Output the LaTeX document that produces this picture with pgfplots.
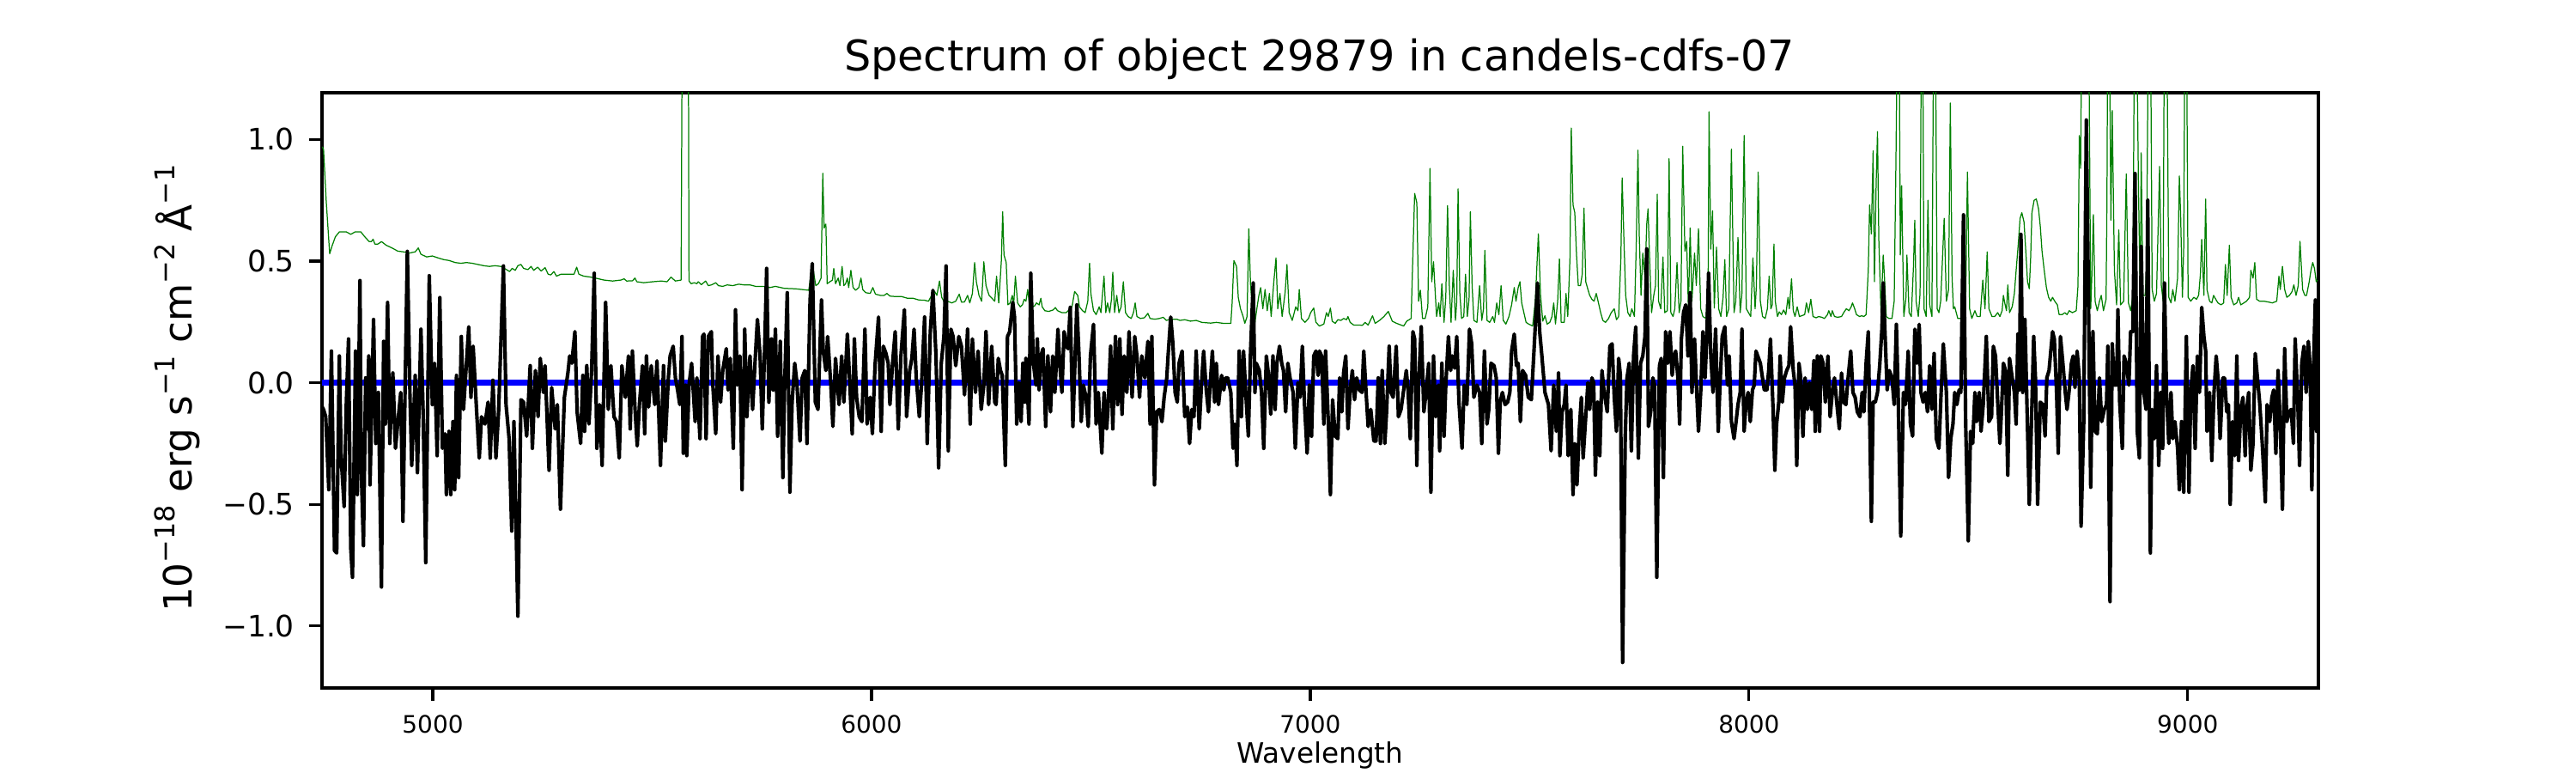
\documentclass[border=0pt]{standalone}
\usepackage{fontspec}
\setmainfont{DejaVu Sans}
\usepackage{pgfplots}
\usepackage{pgfplotstable}
\pgfplotsset{compat=1.18}
\newcommand\sups[1]{\raisebox{0.44em}{\fontsize{11.5}{11.5}\selectfont #1}}

\pgfplotstableread{
x y
4748 -0.10
4751 -0.11
4756 -0.14
4763 -0.44
4769 0.13
4776 -0.69
4781 -0.70
4787 0.11
4791 -0.30
4798 -0.51
4803 -0.08
4808 0.18
4813 -0.68
4817 -0.80
4824 0.13
4828 -0.46
4834 0.42
4837 -0.36
4842 -0.67
4847 0.02
4850 -0.19
4854 0.11
4857 -0.42
4865 0.26
4870 -0.25
4876 -0.04
4883 -0.84
4888 0.17
4892 -0.17
4897 0.33
4902 -0.25
4909 0.04
4915 -0.27
4920 -0.17
4927 -0.04
4932 -0.57
4942 0.54
4948 -0.05
4952 -0.34
4960 0.03
4965 -0.37
4973 0.22
4978 -0.12
4984 -0.74
4992 0.44
4999 -0.09
5004 0.08
5010 -0.30
5016 0.35
5022 -0.27
5028 -0.21
5031 -0.46
5037 -0.20
5041 -0.46
5046 -0.16
5050 -0.44
5054 0.03
5059 -0.39
5065 0.19
5070 -0.11
5082 0.23
5087 -0.06
5092 0.15
5100 -0.12
5106 -0.31
5111 -0.14
5119 -0.17
5126 -0.08
5131 -0.31
5137 0.01
5144 -0.31
5150 -0.12
5161 0.48
5167 -0.09
5174 -0.23
5180 -0.61
5185 -0.16
5194 -0.96
5201 -0.07
5207 -0.08
5214 -0.22
5222 0.07
5227 -0.27
5234 0.05
5240 -0.14
5245 0.10
5252 -0.04
5256 0.07
5265 -0.36
5271 -0.02
5279 -0.19
5284 -0.09
5291 -0.52
5300 -0.06
5308 0.04
5312 0.11
5317 0.08
5324 0.21
5329 -0.12
5337 -0.25
5342 0.03
5346 -0.20
5351 0.07
5356 -0.17
5362 0.05
5368 0.45
5374 -0.27
5380 -0.09
5386 -0.34
5394 0.33
5400 -0.11
5406 0.07
5413 -0.14
5419 -0.16
5425 -0.31
5431 0.07
5439 -0.06
5446 0.11
5450 -0.19
5455 0.13
5461 -0.11
5466 -0.26
5471 -0.09
5478 0.07
5483 -0.21
5487 0.11
5492 -0.10
5498 0.07
5506 -0.09
5511 0.09
5519 -0.34
5526 0.07
5530 -0.24
5537 0.02
5541 0.11
5548 0.15
5553 0.02
5558 -0.03
5563 -0.09
5568 0.19
5571 -0.29
5576 -0.01
5579 -0.30
5584 -0.01
5590 0.08
5598 -0.16
5602 0.02
5609 -0.23
5615 0.19
5618 0.20
5623 -0.23
5628 0.19
5635 0.21
5638 0.00
5645 -0.21
5650 0.11
5656 -0.08
5661 0.05
5669 0.14
5673 -0.03
5678 0.10
5685 -0.27
5690 0.30
5694 -0.01
5700 0.11
5705 -0.44
5711 0.22
5716 -0.14
5723 0.11
5729 -0.11
5735 0.10
5740 0.26
5746 0.11
5751 -0.19
5757 0.18
5761 0.47
5766 -0.08
5772 0.18
5776 -0.03
5781 0.22
5786 -0.22
5792 0.17
5798 -0.39
5802 -0.01
5808 0.37
5814 -0.45
5819 -0.08
5825 0.08
5830 0.00
5837 -0.24
5842 0.02
5848 0.05
5853 -0.25
5860 0.34
5865 0.49
5872 -0.08
5878 -0.11
5886 0.34
5890 0.13
5896 0.05
5900 0.19
5907 0.00
5912 -0.18
5918 0.10
5926 -0.09
5932 0.11
5937 -0.08
5945 0.20
5948 0.09
5956 -0.21
5961 0.18
5966 -0.06
5972 -0.14
5978 -0.16
5985 0.22
5990 -0.17
5997 -0.06
6002 -0.21
6008 0.07
6016 0.27
6022 -0.20
6027 0.15
6033 0.12
6038 0.08
6042 -0.09
6048 0.08
6054 0.21
6061 -0.19
6067 0.11
6075 0.30
6080 -0.14
6087 0.05
6092 0.10
6097 0.22
6102 0.02
6109 -0.14
6114 -0.01
6121 0.27
6127 -0.25
6134 0.21
6140 0.38
6147 0.11
6153 -0.35
6159 0.08
6165 0.19
6170 0.48
6175 -0.28
6181 0.22
6186 0.19
6192 0.07
6199 0.19
6205 0.15
6212 -0.05
6219 0.22
6225 -0.17
6230 0.18
6237 -0.04
6243 0.13
6250 -0.11
6256 -0.01
6261 0.21
6267 -0.09
6274 0.15
6281 -0.08
6284 -0.09
6289 0.10
6294 0.05
6298 0.03
6305 -0.34
6310 0.19
6315 0.21
6322 0.33
6326 0.27
6331 -0.17
6336 0.00
6341 -0.16
6345 0.08
6349 -0.08
6352 0.10
6359 -0.17
6363 0.45
6369 0.08
6375 -0.01
6378 0.18
6382 -0.03
6386 0.11
6391 0.14
6397 -0.18
6402 0.11
6408 -0.12
6413 0.11
6418 -0.04
6425 0.22
6429 0.08
6434 -0.04
6439 0.21
6444 0.15
6448 0.14
6453 0.31
6459 -0.18
6464 0.10
6468 0.32
6473 0.11
6478 -0.16
6483 -0.01
6489 -0.06
6494 -0.18
6499 0.11
6506 0.24
6512 -0.17
6517 -0.04
6525 -0.29
6530 -0.04
6536 -0.19
6539 -0.11
6545 0.15
6550 -0.19
6556 0.19
6561 -0.09
6566 0.18
6571 -0.13
6576 0.11
6582 -0.04
6587 0.21
6594 -0.06
6600 0.19
6605 0.11
6611 -0.06
6616 0.11
6623 0.02
6630 0.17
6635 -0.17
6639 0.19
6645 -0.42
6650 -0.12
6656 -0.11
6662 -0.16
6667 -0.06
6673 0.02
6676 0.11
6682 0.27
6687 0.16
6692 -0.04
6697 -0.08
6701 0.08
6708 0.13
6714 -0.14
6720 -0.10
6725 -0.25
6730 -0.11
6735 -0.14
6740 0.13
6747 -0.19
6752 -0.01
6757 0.13
6763 -0.03
6768 -0.12
6773 0.02
6777 0.13
6782 -0.08
6786 0.08
6791 -0.09
6798 0.03
6803 -0.03
6807 0.02
6812 0.02
6819 -0.04
6824 -0.27
6828 -0.17
6833 -0.34
6838 0.13
6843 -0.14
6848 0.13
6853 -0.04
6859 -0.22
6864 0.13
6870 0.41
6874 -0.04
6877 0.08
6884 0.05
6889 -0.04
6894 -0.27
6900 0.11
6905 0.03
6910 -0.13
6915 0.11
6920 -0.11
6924 0.08
6930 0.15
6935 0.08
6939 0.05
6944 -0.12
6949 0.08
6954 0.02
6961 -0.04
6966 -0.27
6972 0.00
6977 -0.06
6982 0.15
6987 -0.09
6993 -0.29
6998 -0.01
7003 -0.22
7008 0.11
7013 0.13
7018 0.03
7021 0.13
7026 0.11
7031 -0.17
7035 0.13
7042 -0.20
7046 -0.46
7051 -0.07
7057 -0.22
7063 -0.23
7067 0.02
7072 -0.12
7076 0.04
7081 0.11
7086 -0.19
7091 -0.03
7096 0.05
7101 -0.07
7106 0.02
7112 -0.03
7118 -0.04
7122 0.13
7127 -0.03
7132 -0.18
7138 -0.11
7145 -0.24
7150 -0.24
7155 0.02
7160 -0.25
7164 0.05
7170 -0.25
7174 -0.12
7180 0.15
7184 -0.04
7189 -0.06
7196 0.15
7201 -0.14
7207 -0.11
7213 -0.03
7219 0.05
7223 -0.03
7228 -0.23
7234 0.21
7238 0.18
7243 -0.34
7247 -0.01
7253 0.23
7259 -0.12
7264 -0.04
7270 0.08
7275 -0.45
7281 0.11
7286 -0.14
7292 -0.01
7295 -0.28
7300 0.08
7305 -0.22
7309 -0.01
7315 0.19
7320 0.05
7324 0.11
7329 0.06
7334 0.19
7339 -0.08
7346 -0.27
7351 -0.01
7357 -0.09
7363 0.22
7368 0.16
7373 -0.06
7380 -0.01
7386 -0.04
7391 -0.25
7397 0.13
7403 -0.17
7407 -0.11
7412 0.08
7419 0.07
7424 0.02
7429 -0.29
7433 -0.08
7438 -0.04
7444 -0.09
7450 -0.08
7455 -0.04
7459 0.13
7465 0.20
7470 0.07
7474 0.08
7479 -0.16
7484 0.05
7491 0.03
7497 -0.06
7504 -0.07
7510 0.13
7518 0.41
7523 0.21
7528 0.11
7535 -0.04
7543 -0.09
7549 -0.28
7555 -0.01
7561 -0.20
7566 0.04
7569 -0.30
7574 -0.12
7579 -0.09
7583 -0.01
7588 -0.30
7594 -0.11
7599 -0.46
7603 -0.25
7608 -0.42
7613 -0.20
7618 -0.06
7622 -0.31
7628 -0.14
7633 0.00
7637 -0.11
7642 0.02
7646 0.00
7650 -0.38
7655 -0.08
7660 -0.30
7665 0.05
7670 -0.04
7677 -0.12
7683 0.15
7688 0.16
7693 -0.06
7698 -0.20
7703 0.10
7707 0.03
7712 -1.15
7718 -0.22
7722 0.02
7727 0.08
7732 -0.28
7737 0.11
7742 0.23
7748 -0.31
7753 0.08
7758 0.11
7763 0.19
7767 0.55
7771 -0.18
7776 -0.12
7781 0.02
7785 -0.01
7790 -0.80
7796 0.07
7800 0.10
7805 -0.39
7810 0.21
7815 0.08
7820 0.21
7825 0.03
7829 0.11
7833 0.13
7838 0.02
7842 -0.17
7846 0.18
7851 0.29
7856 0.32
7861 0.11
7866 0.37
7870 -0.04
7876 0.18
7881 -0.04
7885 -0.20
7890 -0.04
7895 0.21
7900 0.02
7904 0.19
7908 0.45
7913 0.11
7918 -0.04
7924 0.22
7930 -0.20
7934 -0.01
7939 0.19
7945 0.23
7951 -0.01
7955 0.11
7960 -0.16
7966 -0.23
7970 -0.17
7975 -0.09
7980 -0.04
7984 0.22
7989 -0.20
7993 -0.09
7998 -0.04
8003 -0.16
8008 -0.03
8012 -0.01
8016 0.13
8020 0.11
8026 0.08
8030 0.03
8035 -0.03
8041 -0.03
8045 0.05
8049 0.18
8055 -0.11
8059 -0.36
8063 -0.17
8068 -0.08
8071 0.11
8076 -0.08
8081 0.02
8086 0.05
8091 0.07
8095 0.23
8101 0.05
8105 -0.01
8109 -0.34
8114 0.08
8118 0.02
8123 -0.22
8128 0.02
8133 -0.11
8138 0.00
8143 -0.11
8148 0.09
8151 -0.20
8156 0.11
8161 -0.20
8164 0.11
8169 0.08
8174 -0.08
8180 0.11
8185 -0.14
8190 -0.04
8195 0.02
8200 -0.08
8206 -0.19
8211 0.04
8216 -0.08
8221 -0.09
8226 0.02
8232 0.13
8237 -0.04
8242 -0.06
8247 -0.12
8253 -0.14
8258 -0.04
8262 -0.12
8267 0.08
8272 0.21
8279 -0.57
8283 -0.08
8288 -0.08
8293 -0.04
8298 0.07
8303 0.22
8306 0.41
8310 0.21
8315 -0.03
8320 0.05
8326 0.02
8331 -0.09
8336 0.24
8340 -0.04
8346 -0.63
8352 -0.04
8357 -0.09
8363 0.13
8368 -0.17
8373 -0.22
8378 0.22
8383 0.08
8388 0.24
8392 -0.04
8397 -0.08
8402 -0.04
8407 -0.12
8412 0.07
8417 -0.11
8422 0.12
8427 -0.23
8433 -0.27
8438 -0.04
8443 0.16
8450 -0.04
8455 -0.39
8460 -0.23
8465 -0.17
8469 -0.04
8474 -0.09
8479 -0.03
8483 -0.04
8489 0.69
8494 -0.17
8500 -0.65
8505 -0.20
8510 -0.25
8515 -0.04
8519 -0.16
8525 -0.04
8529 -0.20
8534 -0.09
8541 0.19
8547 -0.16
8553 -0.14
8557 0.15
8562 0.11
8567 -0.08
8572 -0.25
8575 -0.14
8580 0.08
8585 0.05
8590 -0.38
8594 0.10
8600 0.02
8605 -0.04
8609 -0.17
8613 0.20
8616 -0.03
8620 0.61
8624 -0.04
8629 0.26
8633 -0.04
8639 -0.50
8644 -0.16
8649 0.19
8653 0.02
8658 -0.50
8664 -0.08
8670 -0.09
8675 -0.22
8679 0.02
8684 0.05
8692 0.21
8696 0.18
8701 -0.03
8705 -0.29
8710 0.19
8716 0.07
8721 -0.04
8725 -0.11
8730 -0.03
8735 0.08
8739 0.11
8743 -0.02
8748 0.13
8753 0.02
8757 -0.59
8763 -0.17
8769 1.08
8774 0.32
8779 -0.43
8784 0.21
8789 -0.20
8794 -0.21
8799 0.02
8804 -0.16
8810 -0.11
8815 -0.09
8818 0.15
8823 -0.90
8828 0.16
8833 -0.01
8838 -0.01
8841 0.30
8845 -0.08
8851 -0.27
8855 0.11
8860 0.08
8866 -0.01
8870 0.21
8875 0.21
8880 0.86
8885 -0.20
8890 -0.31
8894 0.56
8900 -0.04
8905 -0.11
8909 0.75
8915 -0.70
8919 -0.11
8924 -0.23
8929 0.07
8934 -0.34
8939 -0.04
8943 -0.27
8947 0.41
8952 -0.06
8957 -0.25
8962 -0.04
8966 -0.23
8971 -0.16
8977 -0.27
8981 -0.44
8986 -0.16
8991 -0.45
8997 0.19
9003 -0.45
9007 -0.04
9012 0.07
9017 -0.27
9022 0.11
9027 -0.04
9032 0.31
9037 0.19
9041 0.13
9044 -0.20
9050 -0.04
9055 -0.32
9060 -0.04
9065 0.11
9069 0.02
9074 -0.23
9080 0.02
9084 0.02
9089 -0.12
9093 -0.09
9097 -0.50
9102 -0.16
9107 -0.30
9112 0.11
9116 -0.32
9121 -0.11
9126 -0.06
9131 -0.30
9134 -0.12
9139 -0.04
9144 -0.36
9149 -0.25
9154 0.12
9159 0.02
9164 -0.08
9170 -0.25
9177 -0.49
9181 -0.09
9187 -0.16
9192 -0.06
9196 -0.03
9201 -0.29
9206 0.05
9211 -0.17
9216 -0.52
9221 0.14
9226 -0.16
9231 -0.12
9236 -0.11
9241 -0.25
9245 0.18
9251 -0.08
9255 -0.34
9260 0.08
9265 0.15
9270 -0.04
9275 0.17
9279 0.07
9283 -0.44
9288 0.15
9291 0.34
9294 -0.20
9298 0.34
}\fluxtable

\pgfplotstableread{
x y
4748 0.97
4751 0.96
4757 0.75
4765 0.53
4770 0.56
4778 0.60
4787 0.62
4803 0.62
4813 0.61
4823 0.62
4836 0.62
4845 0.60
4855 0.58
4860 0.58
4864 0.59
4868 0.57
4875 0.57
4883 0.58
4894 0.565
4907 0.554
4920 0.541
4933 0.538
4947 0.533
4960 0.538
4967 0.554
4973 0.528
4986 0.517
4999 0.521
5012 0.513
5025 0.506
5038 0.502
5051 0.494
5064 0.491
5077 0.494
5090 0.491
5103 0.486
5116 0.481
5129 0.478
5142 0.481
5155 0.478
5168 0.465
5175 0.457
5181 0.470
5188 0.462
5194 0.481
5201 0.486
5207 0.470
5217 0.465
5224 0.478
5230 0.462
5239 0.475
5247 0.459
5256 0.473
5263 0.446
5269 0.443
5276 0.457
5282 0.438
5292 0.446
5305 0.446
5322 0.446
5328 0.475
5333 0.446
5344 0.438
5357 0.435
5371 0.430
5390 0.422
5410 0.418
5429 0.422
5436 0.427
5442 0.418
5455 0.419
5461 0.430
5465 0.415
5481 0.411
5501 0.415
5521 0.418
5534 0.415
5543 0.434
5553 0.418
5566 0.422
5571 2.5
5581 2.5
5584 0.418
5589 0.407
5596 0.411
5602 0.407
5605 0.415
5612 0.403
5622 0.418
5628 0.399
5635 0.402
5645 0.411
5651 0.399
5661 0.396
5671 0.402
5684 0.399
5697 0.405
5710 0.402
5723 0.402
5736 0.396
5755 0.396
5768 0.391
5781 0.396
5801 0.388
5827 0.386
5857 0.380
5865 0.486
5873 0.399
5879 0.407
5885 0.430
5889 0.861
5892 0.636
5896 0.652
5899 0.407
5905 0.415
5911 0.422
5914 0.470
5918 0.407
5924 0.430
5928 0.399
5933 0.478
5937 0.399
5941 0.407
5945 0.430
5948 0.391
5953 0.462
5958 0.391
5964 0.380
5971 0.391
5976 0.430
5980 0.383
5987 0.370
5997 0.367
6003 0.391
6009 0.364
6020 0.359
6029 0.359
6035 0.367
6042 0.356
6055 0.354
6069 0.354
6082 0.347
6095 0.347
6108 0.340
6121 0.339
6130 0.335
6137 0.359
6144 0.375
6149 0.359
6155 0.418
6160 0.351
6166 0.331
6173 0.335
6183 0.328
6192 0.335
6200 0.364
6205 0.331
6212 0.332
6219 0.359
6224 0.328
6230 0.367
6235 0.494
6239 0.415
6245 0.359
6251 0.335
6256 0.497
6261 0.399
6268 0.359
6281 0.335
6285 0.438
6290 0.328
6296 0.502
6299 0.703
6302 0.525
6307 0.494
6311 0.320
6316 0.328
6321 0.359
6324 0.320
6328 0.438
6333 0.328
6339 0.312
6344 0.320
6348 0.343
6352 0.335
6356 0.383
6360 0.320
6367 0.312
6372 0.316
6376 0.328
6382 0.320
6386 0.347
6389 0.312
6395 0.296
6404 0.293
6414 0.299
6419 0.309
6424 0.296
6434 0.288
6444 0.288
6450 0.299
6457 0.312
6463 0.375
6470 0.359
6474 0.312
6481 0.296
6487 0.288
6493 0.335
6497 0.491
6500 0.367
6506 0.296
6512 0.280
6519 0.312
6523 0.288
6526 0.354
6530 0.438
6534 0.288
6538 0.328
6543 0.288
6547 0.343
6550 0.454
6554 0.288
6559 0.359
6564 0.288
6569 0.312
6574 0.415
6579 0.288
6585 0.272
6592 0.264
6597 0.288
6601 0.328
6605 0.272
6613 0.264
6622 0.267
6630 0.285
6635 0.264
6646 0.261
6656 0.264
6665 0.269
6672 0.256
6682 0.261
6696 0.261
6703 0.256
6714 0.259
6727 0.253
6740 0.256
6753 0.248
6773 0.245
6786 0.248
6802 0.244
6819 0.244
6822 0.328
6826 0.502
6832 0.478
6836 0.351
6841 0.304
6847 0.272
6851 0.244
6856 0.272
6860 0.633
6864 0.399
6870 0.272
6874 0.248
6879 0.312
6883 0.359
6887 0.391
6892 0.304
6897 0.383
6902 0.296
6907 0.367
6911 0.272
6917 0.415
6922 0.513
6926 0.304
6931 0.367
6936 0.272
6943 0.375
6947 0.486
6952 0.288
6959 0.256
6967 0.312
6972 0.296
6975 0.383
6980 0.264
6988 0.248
6996 0.264
7001 0.288
7008 0.307
7013 0.248
7021 0.233
7031 0.241
7037 0.288
7041 0.272
7046 0.307
7050 0.253
7057 0.244
7063 0.259
7070 0.256
7076 0.264
7083 0.259
7086 0.272
7091 0.248
7099 0.237
7109 0.237
7119 0.236
7125 0.248
7132 0.237
7142 0.275
7148 0.244
7158 0.256
7168 0.272
7178 0.293
7187 0.253
7197 0.244
7207 0.237
7213 0.233
7220 0.253
7230 0.264
7233 0.462
7238 0.778
7243 0.739
7247 0.335
7251 0.380
7256 0.264
7262 0.264
7268 0.312
7273 0.881
7277 0.415
7281 0.497
7285 0.367
7288 0.272
7293 0.328
7296 0.272
7300 0.407
7305 0.248
7309 0.351
7313 0.728
7317 0.399
7321 0.248
7326 0.462
7331 0.256
7334 0.335
7337 0.797
7341 0.367
7345 0.264
7350 0.272
7354 0.446
7358 0.272
7362 0.343
7365 0.703
7369 0.399
7373 0.256
7380 0.248
7386 0.399
7391 0.256
7395 0.304
7398 0.544
7403 0.256
7409 0.248
7416 0.272
7420 0.248
7425 0.328
7430 0.280
7435 0.399
7440 0.256
7446 0.241
7453 0.272
7459 0.320
7465 0.391
7469 0.335
7474 0.391
7478 0.415
7482 0.328
7487 0.288
7492 0.248
7498 0.241
7507 0.233
7513 0.335
7520 0.612
7525 0.359
7530 0.253
7535 0.275
7540 0.241
7546 0.248
7551 0.272
7555 0.328
7559 0.241
7564 0.335
7568 0.509
7572 0.248
7579 0.248
7583 0.367
7587 0.272
7592 0.509
7595 1.047
7599 0.731
7603 0.699
7607 0.525
7611 0.399
7616 0.399
7620 0.446
7624 0.718
7628 0.415
7633 0.383
7637 0.359
7642 0.343
7647 0.335
7652 0.367
7657 0.328
7662 0.288
7667 0.256
7673 0.248
7680 0.264
7686 0.288
7693 0.304
7698 0.259
7703 0.272
7708 0.509
7711 0.842
7715 0.589
7719 0.359
7724 0.288
7729 0.272
7733 0.304
7739 0.272
7743 0.557
7747 0.956
7750 0.604
7754 0.359
7758 0.533
7763 0.430
7767 0.652
7770 0.715
7773 0.541
7778 0.288
7783 0.359
7787 0.399
7791 0.775
7794 0.335
7799 0.304
7804 0.517
7808 0.288
7814 0.296
7818 0.921
7822 0.288
7827 0.272
7831 0.304
7836 0.494
7841 0.288
7845 0.335
7849 0.972
7854 0.541
7858 0.581
7862 0.304
7866 0.636
7870 0.335
7876 0.533
7880 0.399
7885 0.633
7890 0.304
7895 0.272
7902 0.264
7907 0.430
7909 1.114
7913 0.549
7917 0.707
7921 0.307
7926 0.557
7931 0.304
7936 0.272
7941 0.351
7945 0.506
7949 0.272
7954 0.304
7960 0.960
7966 0.288
7970 0.335
7975 0.597
7980 0.288
7984 0.367
7989 1.016
7994 0.304
7999 0.288
8004 0.272
8009 0.513
8014 0.304
8017 0.399
8021 0.866
8026 0.335
8031 0.272
8037 0.264
8042 0.304
8046 0.438
8050 0.304
8053 0.320
8057 0.570
8060 0.335
8065 0.272
8069 0.291
8074 0.280
8079 0.299
8084 0.280
8089 0.351
8092 0.304
8097 0.427
8101 0.296
8105 0.272
8110 0.312
8115 0.272
8120 0.275
8127 0.280
8131 0.328
8136 0.288
8141 0.343
8146 0.272
8153 0.267
8159 0.272
8166 0.269
8172 0.264
8179 0.280
8182 0.296
8187 0.272
8190 0.296
8195 0.272
8202 0.269
8211 0.272
8216 0.288
8222 0.304
8228 0.296
8233 0.312
8236 0.328
8241 0.304
8245 0.280
8252 0.272
8257 0.275
8262 0.272
8267 0.280
8272 0.462
8275 0.731
8279 0.612
8283 0.953
8286 0.415
8290 0.826
8293 1.032
8296 0.589
8301 0.288
8306 0.525
8309 0.430
8313 0.272
8319 0.264
8326 0.264
8331 0.335
8335 0.905
8339 1.6
8342 1.6
8345 0.525
8348 0.810
8353 0.272
8358 0.351
8360 0.525
8365 0.288
8370 0.272
8375 0.478
8378 0.668
8381 0.335
8386 0.272
8390 0.367
8393 1.5
8396 1.5
8399 0.304
8404 0.272
8408 0.750
8412 0.320
8417 0.272
8421 1.5
8425 1.5
8429 0.304
8433 0.288
8437 0.335
8440 0.462
8445 0.676
8450 0.335
8455 0.383
8459 1.150
8463 0.430
8466 0.304
8469 0.312
8476 0.264
8482 0.264
8489 0.272
8494 0.335
8498 0.866
8503 0.304
8508 0.264
8515 0.296
8520 0.272
8527 0.272
8533 0.422
8538 0.304
8543 0.538
8547 0.304
8554 0.272
8560 0.272
8567 0.288
8572 0.272
8577 0.296
8580 0.359
8583 0.328
8587 0.296
8590 0.402
8594 0.288
8600 0.312
8605 0.367
8609 0.462
8614 0.573
8618 0.676
8622 0.699
8627 0.660
8631 0.541
8635 0.415
8639 0.386
8642 0.509
8645 0.699
8650 0.750
8655 0.755
8660 0.715
8664 0.644
8668 0.541
8673 0.462
8678 0.391
8683 0.351
8688 0.335
8692 0.351
8697 0.335
8703 0.320
8707 0.280
8714 0.280
8720 0.288
8725 0.280
8730 0.296
8737 0.288
8746 0.296
8750 0.399
8753 1.016
8756 0.881
8759 1.6
8764 1.8
8769 1.8
8774 1.6
8779 0.304
8782 0.462
8785 0.691
8789 0.335
8794 0.296
8799 0.335
8803 0.359
8808 0.296
8814 0.343
8816 0.747
8818 1.6
8821 1.6
8825 0.668
8828 1.119
8833 0.462
8838 0.320
8843 0.628
8847 0.320
8854 0.335
8860 0.858
8865 0.328
8870 0.296
8875 0.359
8879 1.6
8883 1.6
8888 0.778
8892 0.351
8894 0.945
8898 0.359
8903 0.359
8906 0.462
8911 1.6
8915 1.6
8919 0.383
8924 0.335
8929 0.367
8936 0.889
8940 0.399
8944 0.335
8947 1.6
8952 1.6
8957 0.351
8962 0.328
8966 0.383
8971 0.335
8977 0.430
8981 0.850
8984 0.684
8988 0.351
8991 0.557
8994 1.6
8997 1.6
9001 0.351
9007 0.335
9014 0.351
9020 0.343
9025 0.359
9029 0.446
9032 0.589
9037 0.359
9041 0.755
9044 0.383
9050 0.335
9055 0.328
9059 0.359
9064 0.343
9069 0.328
9076 0.320
9082 0.328
9086 0.486
9090 0.359
9095 0.565
9099 0.351
9105 0.320
9112 0.328
9116 0.351
9121 0.320
9128 0.328
9134 0.335
9141 0.351
9144 0.462
9149 0.430
9153 0.494
9157 0.343
9164 0.335
9174 0.335
9183 0.332
9193 0.328
9203 0.335
9208 0.438
9211 0.383
9216 0.478
9221 0.383
9226 0.351
9232 0.359
9238 0.375
9242 0.402
9247 0.359
9252 0.399
9256 0.581
9262 0.383
9267 0.359
9271 0.359
9277 0.415
9281 0.462
9285 0.494
9289 0.470
9293 0.415
9296 0.422
}\errtable

\begin{document}
\begin{tikzpicture}
\path[use as bounding box] (0,0) rectangle (15in,4.5in);
\begin{axis}[
  at={(1.875in,0.495in)}, anchor=south west,
  width=11.625in, height=3.465in, scale only axis,
  xmin=4747.5, xmax=9298, ymin=-1.255, ymax=1.192,
  axis line style={line width=1.2pt},
  tick align=outside,
  tick pos=left,
  major tick length=5.3pt,
  every tick/.style={line width=1.2pt, black},
  xtick={5000,6000,7000,8000,9000},
  xticklabels={5000,6000,7000,8000,9000},
  ytick={-1,-0.5,0,0.5,1},
  yticklabels={−1.0,−0.5,0.0,0.5,1.0},
  xticklabel style={font=\fontsize{10.1}{10.1}\selectfont, anchor=base, inner sep=0pt, yshift=-13.8pt},
  yticklabel style={font=\fontsize{12.45}{12.45}\selectfont, anchor=east, inner sep=0pt, xshift=-6.1pt},
  minor tick num=0,
  clip=true,
]
\addplot[color={rgb,1:red,0;green,0;blue,1}, line width=2.25pt] coordinates {(4747.5,0) (9298,0)};
\addplot[color={rgb,1:red,0;green,0.5;blue,0}, line width=0.45pt, line join=round] table[x=x,y=y] {\errtable};
\addplot[black, line width=1.5pt, line join=round] table[x=x,y=y] {\fluxtable};
\end{axis}
\node[anchor=base, font=\fontsize{17.8}{17.8}\selectfont] at (7.6825in, 4.085in) {Spectrum of object 29879 in candels-cdfs-07};
\node[anchor=base, font=\fontsize{11.8}{11.8}\selectfont] at (7.6875in, 0.06in) {Wavelength};
\node[anchor=base, rotate=90, font=\fontsize{16.4}{16.4}\selectfont] at (1.115in, 2.24in) {10\sups{−18} erg s\sups{−1} cm\sups{−2} Å\sups{−1}};
\end{tikzpicture}
\end{document}
